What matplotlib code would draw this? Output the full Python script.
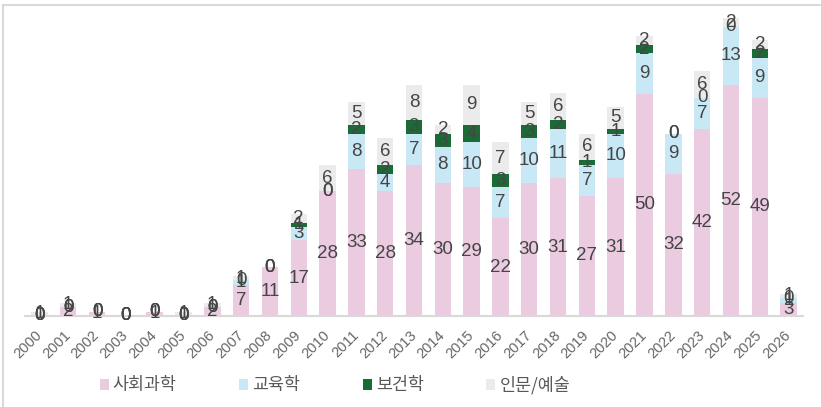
"""Stacked bars of papers by field and year."""

import matplotlib.pyplot as plt
from matplotlib.lines import Line2D

years = [str(y) for y in range(2000, 2027)]
social = [0, 2, 1, 0, 1, 0, 2, 7, 11, 17, 28, 33, 28, 34, 30, 29, 22, 30, 31, 27, 31, 50, 32, 42, 52, 49, 3]
education = [0, 0, 0, 0, 0, 0, 0, 1, 0, 3, 0, 8, 4, 7, 8, 10, 7, 10, 11, 7, 10, 9, 9, 7, 13, 9, 1]
health = [0, 0, 0, 0, 0, 0, 0, 0, 0, 1, 0, 2, 2, 3, 3, 4, 3, 3, 2, 1, 1, 2, 0, 0, 0, 2, 0]
humanities = [1, 1, 0, 0, 0, 1, 1, 1, 0, 2, 6, 5, 6, 8, 2, 9, 7, 5, 6, 6, 5, 2, 0, 6, 2, 2, 1]

series = [
    ("사회과학", social, "#EBCBE0"),
    ("교육학", education, "#C8E8F6"),
    ("보건학", health, "#1B6B36"),
    ("인문/예술", humanities, "#EBEBEB"),
]

fig = plt.figure(figsize=(8.21, 4.07), dpi=100)
ax = fig.add_axes([25 / 821, 91 / 407, 778 / 821, 311.5 / 407])

x = list(range(len(years)))
bottom = [0] * len(years)
for name, vals, color in series:
    bars = ax.bar(x, vals, width=0.57, bottom=bottom, color=color, label=name)
    ax.bar_label(bars, labels=[str(v) for v in vals], label_type="center",
                 fontsize=13.5, color="#454545", family="Liberation Sans")
    bottom = [b + v for b, v in zip(bottom, vals)]

ax.set_xlim(-0.5, len(years) - 0.5)
ax.set_ylim(0, 70)
ax.set_yticks([])
for side in ("top", "right", "left"):
    ax.spines[side].set_visible(False)
ax.spines["bottom"].set_color("#D9D9D9")
ax.spines["bottom"].set_linewidth(1.5)
ax.set_xticks(x)
ax.set_xticklabels(years, rotation=45, ha="right", va="center",
                   rotation_mode="anchor", fontsize=10.5, color="#666666",
                   family="Liberation Sans")
ax.tick_params(axis="x", length=0, pad=12)

fig.legend(loc="center", bbox_to_anchor=(335 / 821, 1 - 385 / 407), ncol=4,
           frameon=False, prop={"family": ["Noto Sans CJK KR", "DejaVu Sans"], "size": 12.5},
           labelcolor="#595959", handlelength=0.5, handleheight=0.6,
           handletextpad=0.25, columnspacing=3.6)

# chart border
fig.add_artist(Line2D([3 / 821, 1], [1 - 5 / 407] * 2, color="#D9D9D9", lw=1.5))
fig.add_artist(Line2D([3 / 821] * 2, [0, 1 - 5 / 407], color="#D9D9D9", lw=1.5))

fig.savefig("out.png", dpi=100)
plt.close(fig)
